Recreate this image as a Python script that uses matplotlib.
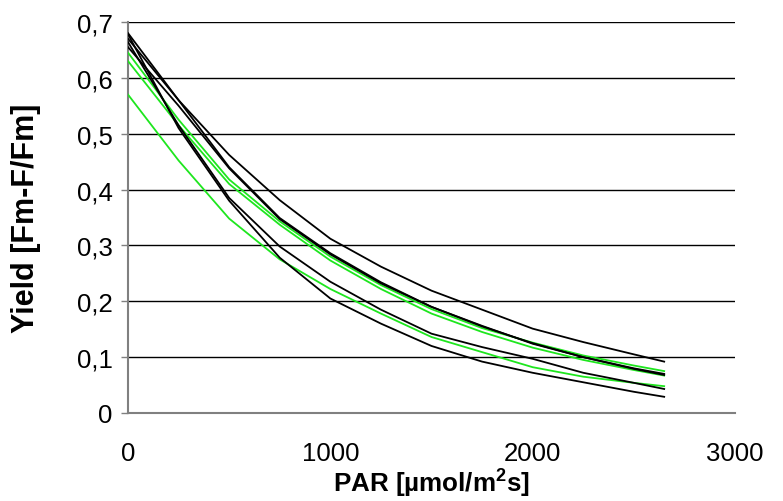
import numpy as np
import matplotlib.pyplot as plt
from matplotlib.ticker import FuncFormatter

plt.rcParams['font.family'] = ['Liberation Sans', 'DejaVu Sans']
plt.rcParams['mathtext.fontset'] = 'custom'
plt.rcParams['mathtext.rm'] = 'Liberation Sans'
plt.rcParams['mathtext.bf'] = 'Liberation Sans:bold'

# PAR values (µmol/m2s) at which the curves were read
par = [0, 250, 500, 750, 1000, 1250, 1500, 1750, 2000, 2250, 2500, 2650]

# black curves
black_a = [0.670, 0.560, 0.462, 0.381, 0.312, 0.262, 0.219, 0.185, 0.151, 0.127, 0.105, 0.092]
black_b1 = [0.680, 0.560, 0.440, 0.349, 0.286, 0.234, 0.190, 0.155, 0.125, 0.100, 0.080, 0.070]
black_b2 = [0.655, 0.550, 0.438, 0.347, 0.284, 0.232, 0.190, 0.156, 0.124, 0.100, 0.079, 0.068]
black_c = [0.664, 0.515, 0.385, 0.298, 0.235, 0.185, 0.142, 0.118, 0.097, 0.072, 0.054, 0.043]
black_d = [0.678, 0.510, 0.380, 0.278, 0.205, 0.160, 0.120, 0.092, 0.072, 0.055, 0.038, 0.029]

# green curves
green_1 = [0.645, 0.525, 0.418, 0.343, 0.280, 0.229, 0.186, 0.152, 0.126, 0.103, 0.085, 0.075]
green_2 = [0.630, 0.515, 0.410, 0.337, 0.273, 0.222, 0.178, 0.145, 0.117, 0.095, 0.077, 0.067]
green_3 = [0.570, 0.452, 0.348, 0.275, 0.222, 0.178, 0.136, 0.109, 0.082, 0.065, 0.054, 0.048]

fig = plt.figure(figsize=(7.83, 5.02), dpi=100)
ax = fig.add_axes([0.1635, 0.1753, 0.7752, 0.7789])

green = '#1ee61e'
for ys in [green_1, green_2, green_3]:
    ax.plot(par, ys, color=green, lw=1.3, zorder=3)
for ys in [black_a, black_b1, black_b2, black_c, black_d]:
    ax.plot(par, ys, color='black', lw=1.3, zorder=4)

ax.set_xlim(0, 3000)
ax.set_ylim(0, 0.7)
ax.set_xticks([0, 1000, 2000, 3000])
ax.set_yticks(np.arange(0, 0.71, 0.1))

def comma(v, pos):
    if abs(v) < 1e-9:
        return '0'
    return ('%.1f' % v).replace('.', ',')

ax.yaxis.set_major_formatter(FuncFormatter(comma))
ax.yaxis.grid(True, color='black', lw=1.0)
ax.set_axisbelow(True)

for s in ['top', 'right']:
    ax.spines[s].set_visible(False)
for s in ['left', 'bottom']:
    ax.spines[s].set_color('#808080')
    ax.spines[s].set_linewidth(1.5)

ax.tick_params(axis='both', colors='#808080', labelcolor='black', labelsize=18.5, length=5, width=1)
ax.tick_params(axis='x', length=0, pad=20)
ax.tick_params(axis='y', pad=6)

ax.set_xlabel(r'PAR [µmol/m$^{\mathbf{2}}$s]', fontsize=18.7, fontweight='bold', labelpad=0)
ax.set_ylabel('Yield [Fm-F/Fm]', fontsize=22, fontweight='bold', labelpad=26)

plt.savefig('out.png', dpi=100)
